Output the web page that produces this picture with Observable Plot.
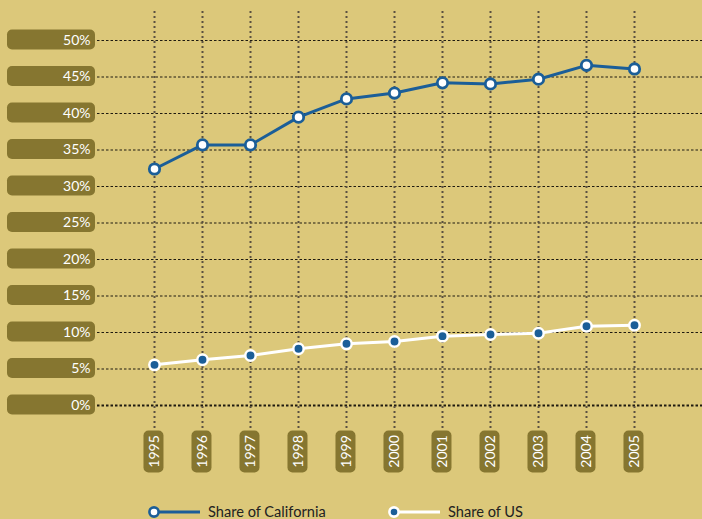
<!DOCTYPE html>
<html><head><meta charset="utf-8">
<script src="https://cdn.jsdelivr.net/npm/d3@7"></script>
<script src="https://cdn.jsdelivr.net/npm/@observablehq/plot@0.6"></script>
<style>
html,body{margin:0;padding:0;background:#dcc87a;width:702px;height:519px;overflow:hidden;font-family:Lato,"Open Sans",sans-serif;}
#chart svg{display:block;}
#legend{position:relative;height:24px;}
.item{position:absolute;top:8px;display:flex;align-items:center;gap:8px;font-size:14.6px;line-height:18px;color:#222;}
</style></head><body><div id="chart"></div><div id="legend"></div>
<script>
const years = [1995,1996,1997,1998,1999,2000,2001,2002,2003,2004,2005];
const california = [32.4,35.7,35.7,39.5,42.0,42.8,44.2,44.05,44.7,46.6,46.1];
const us = [5.57,6.26,6.85,7.77,8.45,8.77,9.5,9.73,9.9,10.86,11.0];
const yTicks = [0,5,10,15,20,25,30,35,40,45,50];
const seriesNames = ["Share of California","Share of US"];

const blue = "#1b5e98";
const boxFill = "#867630";
const table = [
  ...years.map((y,i)=>({year:y, value:california[i], series:seriesNames[0]})),
  ...years.map((y,i)=>({year:y, value:us[i], series:seriesNames[1]}))
];
const isCA = d => d.series === seriesNames[0];
const isUS = d => d.series === seriesNames[1];

const chart = Plot.plot({
  width: 702, height: 495,
  marginLeft: 97, marginRight: 0, marginTop: 11, marginBottom: 67,
  style: {background: "transparent", fontFamily: "Lato, 'Open Sans', sans-serif", overflow: "visible"},
  x: {type: "linear", domain: [1995, 2005], insetLeft: 57, insetRight: 68, axis: null},
  y: {domain: [0, 50], insetTop: 29, insetBottom: 23},
  marks: [
    Plot.ruleY(yTicks, {stroke: "#1e1a10", strokeDasharray: "2.5,2", strokeWidth: d => d === 0 ? 1.8 : 1.1}),
    Plot.ruleX(years, {stroke: "#5a5040", strokeWidth: 2, strokeDasharray: "2,3"}),
    Plot.axisY(yTicks, {tickSize: 0, tickPadding: 7, tickFormat: d => d + "%", fill: "#fff", fontSize: 14, label: null}),
    Plot.text(years, {x: d => d, frameAnchor: "bottom", dy: 23, rotate: -90, text: d => String(d), fill: "#fff", fontSize: 14, textAnchor: "middle", lineAnchor: "middle"}),
    Plot.line(table, {filter: isCA, x: "year", y: "value", stroke: blue, strokeWidth: 3}),
    Plot.line(table, {filter: isUS, x: "year", y: "value", stroke: "#fff", strokeWidth: 3}),
    Plot.dot(table, {filter: isCA, x: "year", y: "value", r: 5.2, fill: "#fff", stroke: blue, strokeWidth: 2.8}),
    Plot.dot(table, {filter: isUS, x: "year", y: "value", r: 5.2, fill: blue, stroke: "#fff", strokeWidth: 2.5})
  ]
});
document.getElementById("chart").appendChild(chart);

const ns = "http://www.w3.org/2000/svg";
const root = chart.getBoundingClientRect();
function addBoxes(g, make) {
  if (!g) return;
  const holder = document.createElementNS(ns, "g");
  g.parentNode.insertBefore(holder, g);
  g.querySelectorAll("text").forEach(t => {
    const b = t.getBoundingClientRect();
    const cx = b.left + b.width / 2 - root.left, cy = b.top + b.height / 2 - root.top;
    const r = document.createElementNS(ns, "rect");
    const [x, y, w, h] = make(cx, cy);
    r.setAttribute("x", x); r.setAttribute("y", y);
    r.setAttribute("width", w); r.setAttribute("height", h);
    r.setAttribute("rx", 5); r.setAttribute("fill", boxFill);
    holder.appendChild(r);
  });
}
addBoxes(chart.querySelector('g[aria-label="y-axis tick label"]'), (cx, cy) => [7, cy - 10, 88, 20]);
addBoxes(chart.querySelector('g[aria-label="text"]'), (cx, cy) => [cx - 10, cy - 21, 20, 42]);

// Legend
const legend = document.getElementById("legend");
const items = [
  {name: seriesNames[0], line: blue, fill: "#fff", stroke: blue, left: 148},
  {name: seriesNames[1], line: "#fff", fill: blue, stroke: "#fff", left: 388}
];
items.forEach(it => {
  const div = document.createElement("div");
  div.className = "item";
  div.style.left = it.left + "px";
  div.innerHTML = `<svg width="52" height="16"><line x1="6" y1="8" x2="52" y2="8" stroke="${it.line}" stroke-width="3"/><circle cx="6" cy="8" r="4.6" fill="${it.fill}" stroke="${it.stroke}" stroke-width="2.6"/></svg><span>${it.name}</span>`;
  legend.appendChild(div);
});
</script></body></html>
